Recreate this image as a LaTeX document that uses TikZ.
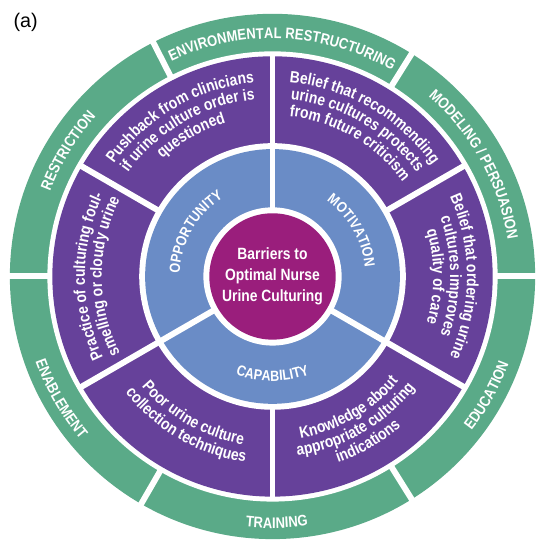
\documentclass[tikz,border=0pt]{standalone}
\usepackage{fontspec}
\setmainfont{Liberation Sans}[FakeStretch=0.85]
\newfontfamily\panelfont{Liberation Sans}
\usetikzlibrary{decorations.text}
\definecolor{ringgreen}{HTML}{5AAA88}
\definecolor{ringpurple}{HTML}{66419A}
\definecolor{ringblue}{HTML}{6A8CC6}
\definecolor{coremagenta}{HTML}{9A1E7C}
\tikzset{
        gapline/.style={white,line width=6pt},
        core/.style={circle,fill=coremagenta,text=white,minimum size=128pt,inner sep=0pt,
                align=center,font=\fontsize{16.5}{21}\selectfont\bfseries},
        }
% text bent round the centre: radius, from angle, to angle, font size, text
\newcommand{\arctext}[5]{%
        \path [decorate,decoration={text along path,text align=center,text color=white,
                text={|\fontsize{#4}{#4}\selectfont\bfseries|#5}}]
                (#2:#1) arc [start angle=#2,end angle=#3,radius=#1];}

\begin{document}
\begin{tikzpicture}[x=1pt,y=1pt]

			% background..................
			\fill [white] (-276,-270) rectangle (266,280);

			% rings.......................
			\fill [ringgreen] (0,0) circle [radius=266];
			\fill [white] (0,0) circle [radius=228];
			\fill [ringpurple] (0,0) circle [radius=223];
			\fill [white] (0,0) circle [radius=135];
			\fill [ringblue] (0,0) circle [radius=129];
			\fill [white] (0,0) circle [radius=70];

			% gaps between segments.......
			\foreach \a in {90,210,330}
				\draw [gapline] (0,0) -- (\a:226);
			\foreach \a in {30,150,270}
				\draw [gapline] (\a:131) -- (\a:226);
			\foreach \a in {0,58,117,180,240,302}
				\draw [gapline] (\a:224) -- (\a:270);

			% centre......................
			\node [core] (core) at (0,0) {Barriers to\\Optimal Nurse\\Urine Culturing};

			% blue ring labels............
			\arctext{94}{195}{105}{15}{OPPORTUNITY}
			\arctext{94}{75}{-15}{15}{MOTIVATION}
			\arctext{106}{225}{315}{15}{CAPABILITY}

			% purple ring texts...........
			\arctext{197}{165}{75}{16.5}{Pushback from clinicians}
			\arctext{180}{165}{75}{16.5}{if urine culture order is}
			\arctext{163}{165}{75}{16.5}{questioned}

			\arctext{197}{105}{15}{16.5}{Belief that recommending}
			\arctext{180}{105}{15}{16.5}{urine cultures protects}
			\arctext{163}{105}{15}{16.5}{from future criticism}

			\arctext{197}{45}{-45}{16.5}{Belief that ordering urine}
			\arctext{180}{45}{-45}{16.5}{cultures improves}
			\arctext{163}{45}{-45}{16.5}{quality of care}

			\arctext{190}{225}{135}{16.5}{Practice of culturing foul-}
			\arctext{173}{225}{135}{16.5}{smelling or cloudy urine}

			\arctext{173}{195}{285}{16.5}{Poor urine culture}
			\arctext{190}{195}{285}{16.5}{collection techniques}

			\arctext{166}{255}{345}{16.5}{Knowledge about}
			\arctext{183}{255}{345}{16.5}{appropriate culturing}
			\arctext{200}{255}{345}{16.5}{indications}

			% green ring labels...........
			\arctext{241}{135}{40}{15.5}{ENVIRONMENTAL RESTRUCTURING}
			\arctext{241}{75}{-17}{15.5}{MODELING / PERSUASION}
			\arctext{255}{-70}{12}{15.5}{EDUCATION}
			\arctext{255}{-130}{-48}{15.5}{TRAINING}
			\arctext{255}{170}{250}{15.5}{ENABLEMENT}
			\arctext{241}{190}{107}{15.5}{RESTRICTION}

			% panel letter................
			\node [font=\panelfont\fontsize{20}{20}\selectfont] (panel) at (-250,257) {(a)};
		\end{tikzpicture}
\end{document}
